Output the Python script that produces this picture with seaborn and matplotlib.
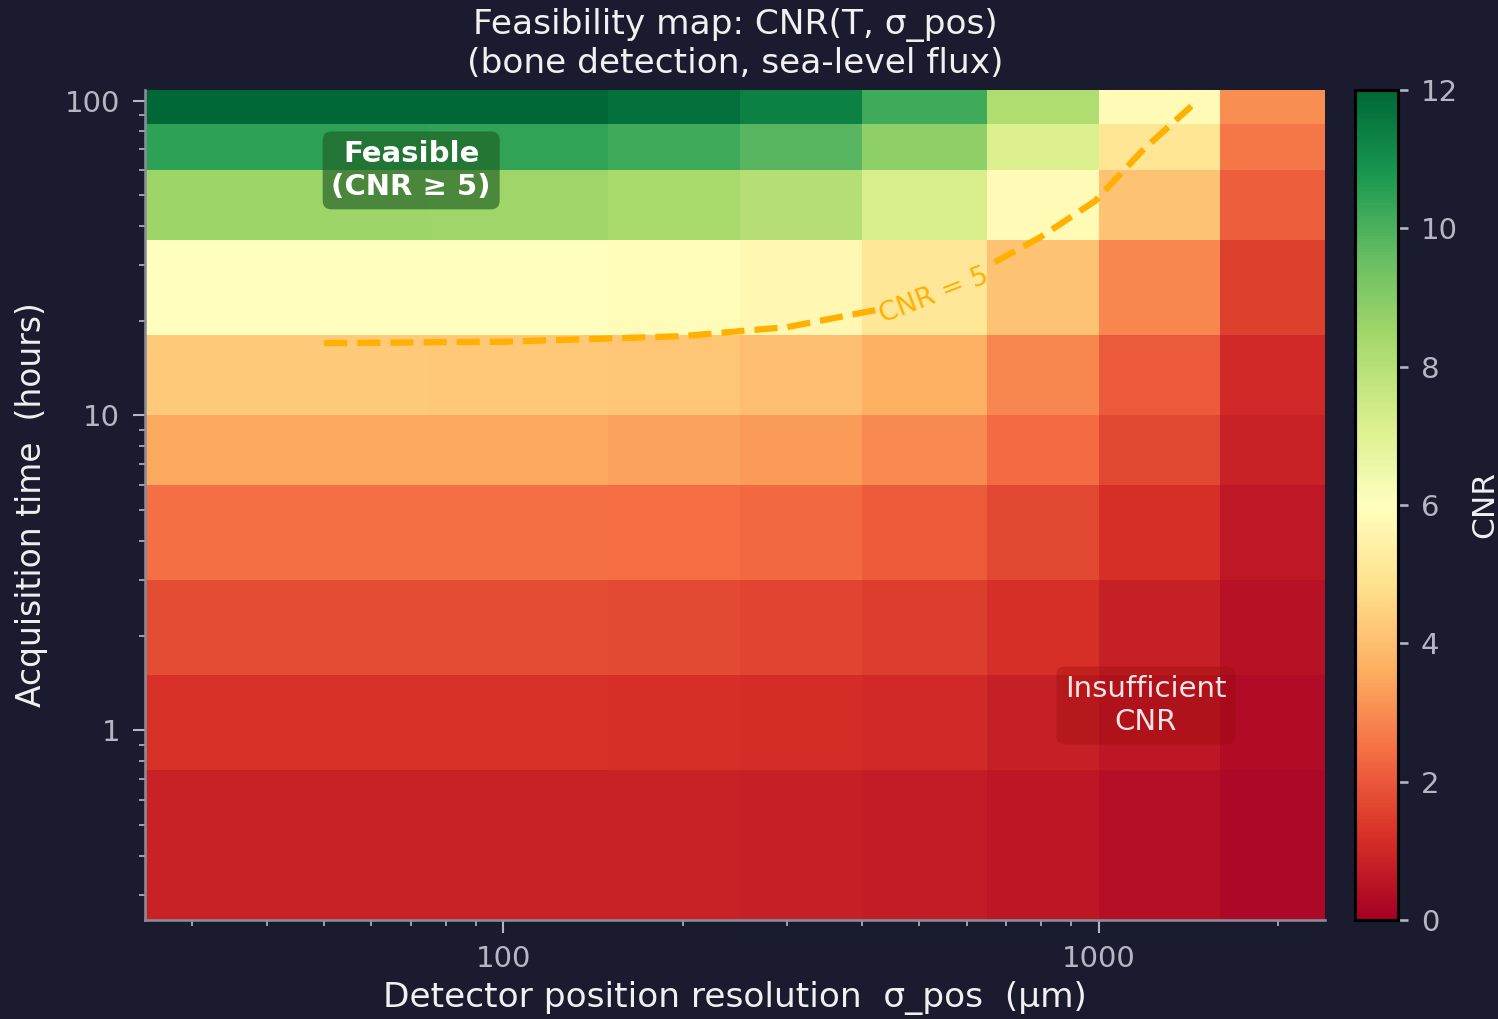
import matplotlib.pyplot as plt
import matplotlib.ticker as mticker
import numpy as np
import seaborn as sns

# grid of the feasibility map
sigma_um = [50, 100, 200, 300, 500, 800, 1200, 2000]
hours = [0.5, 1, 2, 4, 8, 12, 24, 48, 72, 96]

# CNR, one row per acquisition time
cnr_rows = [
    [0.87, 0.87, 0.85, 0.82, 0.74, 0.59, 0.42, 0.22],
    [1.24, 1.23, 1.20, 1.16, 1.05, 0.83, 0.59, 0.31],
    [1.74, 1.74, 1.70, 1.64, 1.48, 1.18, 0.84, 0.43],
    [2.47, 2.46, 2.41, 2.32, 2.08, 1.67, 1.19, 0.62],
    [3.50, 3.47, 3.40, 3.28, 2.94, 2.36, 1.68, 0.87],
    [4.28, 4.25, 4.16, 4.02, 3.61, 2.89, 2.05, 1.07],
    [6.02, 6.00, 5.88, 5.68, 5.10, 4.09, 2.90, 1.51],
    [8.56, 8.52, 8.32, 8.03, 7.22, 5.78, 4.11, 2.13],
    [10.49, 10.42, 10.20, 9.83, 8.84, 7.08, 5.03, 2.60],
    [12.12, 12.04, 11.78, 11.36, 10.21, 8.18, 5.81, 3.01],
]
cbar_ticks = [0, 2, 4, 6, 8, 10, 12]

BG = "#1a1b2e"
TICK_COL = "#b4b6c2"
LABEL_COL = "#f0f0f0"

sns.set_theme(
    style="ticks",
    rc={
        "figure.facecolor": BG,
        "axes.facecolor": BG,
        "axes.edgecolor": "#8a8c99",
        "axes.labelcolor": LABEL_COL,
        "text.color": LABEL_COL,
        "xtick.color": TICK_COL,
        "ytick.color": TICK_COL,
        "axes.grid": False,
    },
)
plt.rcParams["font.family"] = ["DejaVu Sans"]

W, H = 1498, 1019
fig = plt.figure(figsize=(W / 150, H / 150), dpi=150)
ax = fig.add_axes([145 / W, 1 - 920 / H, 1180 / W, 830 / H])
cax = fig.add_axes([1355 / W, 1 - 920 / H, 43 / W, 830 / H])

cnr = np.array(cnr_rows)
mesh = ax.pcolormesh(sigma_um, hours, cnr, cmap="RdYlGn", vmin=0, vmax=12,
                     shading="nearest")
ax.set_xscale("log")
ax.set_yscale("log")

fmt = mticker.FuncFormatter(lambda v, _: f"{v:g}")
ax.xaxis.set_major_formatter(fmt)
ax.yaxis.set_major_formatter(fmt)
ax.xaxis.set_minor_formatter(mticker.NullFormatter())
ax.yaxis.set_minor_formatter(mticker.NullFormatter())
ax.tick_params(which="major", labelsize=14, length=6, width=1, pad=6)
ax.tick_params(which="minor", length=3, width=0.8)
for side in ["top", "right"]:
    ax.spines[side].set_visible(False)

cs = ax.contour(sigma_um, hours, cnr, levels=[5], colors="#ffb000",
                linestyles="--", linewidths=3)
ax.clabel(cs, fmt={5: "CNR = 5"}, fontsize=13, inline=True,
          manual=[(530, 24)])

ax.text(70, 60, "Feasible\n(CNR ≥ 5)", ha="center", va="center",
        fontsize=14, fontweight="bold", color="white",
        bbox=dict(boxstyle="round,pad=0.3", facecolor="#1e5e24", alpha=0.65,
                  edgecolor="none"))
ax.text(1200, 1.2, "Insufficient\nCNR", ha="center", va="center",
        fontsize=14, color="#fbe4e4",
        bbox=dict(boxstyle="round,pad=0.3", facecolor="#9a0a0a", alpha=0.35,
                  edgecolor="none"))

ax.set_title("Feasibility map: CNR(T, σ_pos)\n(bone detection, sea-level flux)",
             fontsize=16.5, color=LABEL_COL, pad=8)
ax.set_xlabel("Detector position resolution  σ_pos  (μm)", fontsize=16.5,
              labelpad=4)
ax.set_ylabel("Acquisition time  (hours)", fontsize=15.8, labelpad=8)

cbar = fig.colorbar(mesh, cax=cax, ticks=cbar_ticks)
cbar.outline.set_edgecolor("black")
cbar.outline.set_linewidth(1.5)
cax.tick_params(labelsize=14, length=5, pad=6, color=TICK_COL,
                labelcolor=TICK_COL)
cbar.set_label("CNR", fontsize=15, color=LABEL_COL, labelpad=6)

fig.savefig("out.png", dpi=150, facecolor=BG)
